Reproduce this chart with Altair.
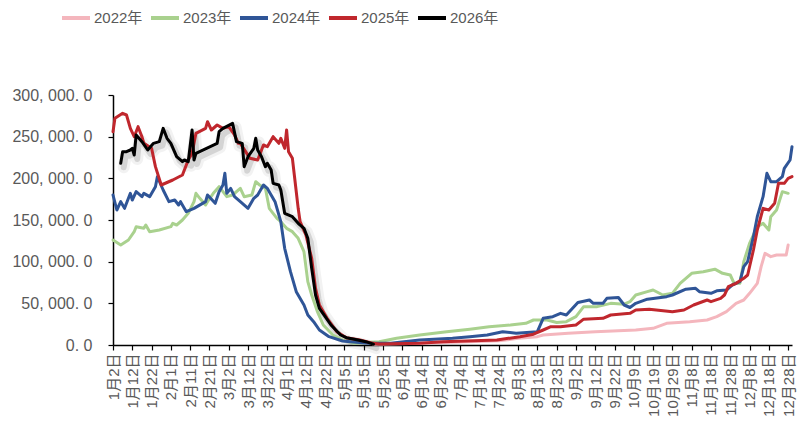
import json
import altair as alt
import pandas as pd

# Category axis: one slot per trading day, a label every 10 slots
tick_labels = [
    "1月2日", "1月12日", "1月22日", "2月1日", "2月11日", "2月21日", "3月2日",
    "3月12日", "3月22日", "4月1日", "4月12日", "4月22日", "5月5日", "5月15日",
    "5月25日", "6月4日", "6月14日", "6月24日", "7月4日", "7月14日", "7月24日",
    "8月3日", "8月13日", "8月23日", "9月2日", "9月12日", "9月22日", "10月9日",
    "10月19日", "10月29日", "11月8日", "11月18日", "11月28日", "12月8日",
    "12月18日", "12月28日",
]

years = ["2022年", "2023年", "2024年", "2025年", "2026年"]
colors = ["#F4B6BD", "#A9D18E", "#2F5597", "#C0272D", "#000000"]

# 2022
idx_2022 = [135, 160, 180, 200, 210, 220, 223, 236, 250, 271, 280, 287, 299, 308,
            313, 318, 323, 327, 330, 334, 336, 338, 341, 344, 349, 350]
val_2022 = [1000, 2000, 3500, 5000, 8000, 10000, 12000, 14000, 16000, 18000, 20000,
            26000, 28000, 30000, 34000, 40000, 50000, 54000, 62000, 74000, 94000,
            110000, 106000, 108000, 108000, 120000]

# 2023
idx_2023 = [0, 4, 8, 11, 12, 16, 17, 19, 24, 30, 31, 33, 36, 39, 42, 43, 45, 48, 49,
            52, 55, 59, 62, 66, 68, 72, 74, 76, 79, 81, 85, 87, 90, 93, 96, 99, 101,
            103, 106, 109, 114, 119, 125, 138, 147, 159, 173, 185, 195, 206, 214, 218,
            225, 230, 235, 240, 244, 251, 258, 265, 268, 271, 277, 280, 285, 290, 294,
            300, 306, 312, 316, 320, 322, 325, 327, 330, 334, 337, 340, 341, 344, 347,
            350]
val_2023 = [126000, 120000, 126000, 136000, 142000, 140000, 144000, 136000, 138000,
            142000, 146000, 144000, 150000, 158000, 172000, 182000, 176000, 168000,
            172000, 182000, 190000, 178000, 180000, 188000, 178000, 180000, 196000,
            192000, 188000, 164000, 152000, 148000, 140000, 136000, 128000, 112000,
            76000, 60000, 40000, 24000, 12000, 6000, 2000, 4000, 8000, 12000, 16000,
            19000, 22000, 24000, 26000, 30000, 30000, 27000, 28000, 34000, 46000,
            46000, 50000, 49000, 52000, 60000, 64000, 66000, 60000, 62000, 74000,
            86000, 88000, 91000, 86000, 84000, 74000, 74000, 100000, 122000, 142000,
            146000, 138000, 154000, 162000, 184000, 182000]

# 2024
idx_2024 = [0, 2, 4, 6, 9, 10, 12, 15, 16, 19, 22, 23, 26, 29, 32, 34, 35, 38, 42, 48,
            49, 53, 55, 57, 58, 59, 61, 63, 66, 70, 73, 75, 78, 80, 81, 84, 87, 89, 92,
            95, 99, 101, 104, 107, 112, 119, 126, 133, 144, 159, 176, 185, 194, 202,
            209, 220, 223, 228, 232, 235, 241, 247, 249, 254, 256, 262, 265, 268, 271,
            277, 287, 290, 297, 302, 304, 310, 313, 318, 321, 325, 327, 329, 332, 334,
            337, 339, 341, 344, 347, 348, 351, 352]
val_2024 = [180000, 162000, 172000, 164000, 182000, 174000, 184000, 178000, 182000,
            178000, 190000, 202000, 186000, 172000, 174000, 168000, 172000, 160000,
            164000, 172000, 180000, 170000, 184000, 192000, 206000, 182000, 188000,
            178000, 172000, 164000, 176000, 180000, 192000, 188000, 184000, 172000,
            148000, 116000, 88000, 64000, 48000, 36000, 28000, 18000, 10000, 4800,
            3200, 2000, 2000, 6000, 8000, 10000, 12000, 16000, 14000, 16000, 32000,
            34000, 38000, 36000, 51000, 54000, 50000, 50000, 56000, 57000, 48000,
            45000, 50000, 55000, 58000, 60000, 67000, 68000, 64000, 62000, 65000,
            66000, 72000, 76000, 94000, 100000, 130000, 154000, 178000, 206000,
            196000, 196000, 202000, 212000, 222000, 238000]

# 2025
idx_2025 = [0, 1, 5, 7, 9, 11, 13, 15, 16, 20, 22, 25, 31, 36, 39, 41, 43, 48, 49, 51,
            54, 57, 60, 63, 65, 66, 71, 75, 78, 80, 83, 86, 87, 89, 90, 91, 93, 94, 96,
            97, 100, 103, 105, 107, 111, 116, 121, 128, 135, 138, 159, 171, 199, 211,
            218, 223, 227, 232, 240, 244, 254, 258, 268, 271, 278, 290, 296, 301, 308,
            310, 315, 317, 319, 323, 327, 329, 332, 334, 337, 340, 343, 345, 348, 350,
            352]
val_2025 = [256000, 272000, 278000, 276000, 260000, 250000, 262000, 250000, 242000,
            236000, 214000, 192000, 198000, 204000, 222000, 230000, 254000, 260000,
            268000, 258000, 264000, 260000, 262000, 252000, 242000, 242000, 224000,
            222000, 240000, 238000, 250000, 242000, 248000, 236000, 258000, 232000,
            224000, 204000, 164000, 148000, 132000, 104000, 68000, 48000, 32000,
            16000, 8800, 6000, 2000, 1200, 2000, 4000, 6000, 10000, 13000, 18000,
            22000, 22000, 24000, 31000, 32000, 36000, 38000, 42000, 43000, 40000,
            42000, 48000, 54000, 52000, 56000, 60000, 70000, 74000, 80000, 84000,
            114000, 138000, 164000, 162000, 170000, 194000, 194000, 200000, 202000]

# 2026
idx_2026 = [4, 5, 7, 9, 10, 11, 12, 15, 18, 21, 24, 26, 28, 30, 33, 36, 37, 39, 41, 42,
            43, 54, 55, 57, 62, 64, 67, 68, 70, 73, 74, 75, 77, 79, 80, 82, 83, 86, 87,
            89, 93, 96, 99, 101, 103, 105, 107, 110, 113, 118, 121, 127, 131, 135]
val_2026 = [218000, 232000, 232000, 234000, 236000, 228000, 252000, 244000, 234000,
            242000, 244000, 260000, 248000, 242000, 226000, 220000, 222000, 220000,
            258000, 222000, 230000, 242000, 256000, 260000, 266000, 244000, 242000,
            214000, 226000, 236000, 248000, 234000, 226000, 214000, 218000, 210000,
            194000, 192000, 186000, 158000, 154000, 146000, 140000, 128000, 92000,
            60000, 44000, 34000, 24000, 12000, 8800, 6000, 4000, 1000]

series = {
    "2022年": (idx_2022, val_2022),
    "2023年": (idx_2023, val_2023),
    "2024年": (idx_2024, val_2024),
    "2025年": (idx_2025, val_2025),
    "2026年": (idx_2026, val_2026),
}

rows = []
for order, (name, (xs, ys)) in enumerate(series.items()):
    for x, y in zip(xs, ys):
        rows.append({"slot": x, "value": y, "year": name, "order": order})
df = pd.DataFrame(rows)

FONT = "Liberation Sans, Arial, Noto Sans CJK SC, sans-serif"
GREY = "#595959"

x_enc = alt.X(
    "slot:Q",
    scale=alt.Scale(domain=[0, 352], nice=False, zero=False),
    axis=alt.Axis(
        values=list(range(0, 351, 10)),
        labelExpr=json.dumps(tick_labels, ensure_ascii=False) + "[round(datum.value / 10)]",
        labelAngle=270,
        labelOverlap=False,
        labelFlush=False,
        labelPadding=3,
        labelFontSize=15,
        title=None,
        grid=False,
    ),
)
y_enc = alt.Y(
    "value:Q",
    scale=alt.Scale(domain=[0, 300000], nice=False),
    axis=alt.Axis(
        values=list(range(0, 300001, 50000)),
        labelExpr="replace(replace(format(datum.value, ',.1f'), ',', ', '), '.', '. ')",
        labelPadding=16,
        labelFontSize=16,
        title=None,
        grid=False,
    ),
)

base = alt.Chart(df)

# Soft drop shadow under the 2026 line
shadow_wide = base.transform_filter(alt.datum.year == "2026年").mark_line(
    color="#000000", opacity=0.05, strokeWidth=12, xOffset=3, yOffset=4,
    strokeJoin="round", strokeCap="round",
).encode(x=x_enc, y=y_enc)
shadow_core = base.transform_filter(alt.datum.year == "2026年").mark_line(
    color="#000000", opacity=0.12, strokeWidth=6, xOffset=3, yOffset=4,
    strokeJoin="round", strokeCap="round",
).encode(x=x_enc, y=y_enc)

lines = base.mark_line(strokeWidth=3, strokeJoin="round", strokeCap="round").encode(
    x=x_enc,
    y=y_enc,
    color=alt.Color(
        "year:N",
        scale=alt.Scale(domain=years, range=colors),
        legend=alt.Legend(
            title=None,
            orient="none",
            direction="horizontal",
            legendX=-53,
            legendY=-93,
            symbolType="stroke",
            symbolSize=784,
            symbolStrokeWidth=4,
            labelFont=FONT,
            labelFontSize=15,
            labelColor=GREY,
            labelOffset=2,
            columnPadding=0,
            gridAlign="none",
        ),
    ),
    order=alt.Order("order:Q"),
    detail="year:N",
)

chart = (
    alt.layer(shadow_wide, shadow_core, lines)
    .properties(
        width=679,
        height=250,
        autosize=alt.AutoSizeParams(type="none"),
        padding={"left": 113, "top": 95, "right": 11, "bottom": 78},
        background="#ffffff",
    )
    .configure_view(stroke=None)
    .configure_axis(
        domainColor="#000000",
        domainWidth=1.5,
        tickColor="#000000",
        tickWidth=1.2,
        tickSize=5,
        labelColor=GREY,
        labelFont=FONT,
    )
)

chart.save("out.html", embed_options={"renderer": "svg", "actions": False})
